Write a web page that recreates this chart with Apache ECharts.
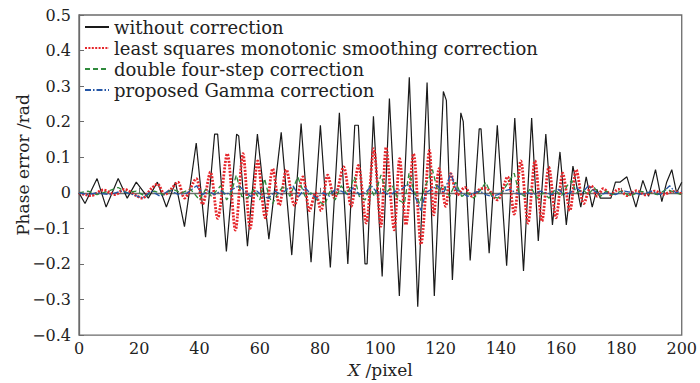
<!DOCTYPE html>
<html><head><meta charset="utf-8">
<script src="https://cdn.jsdelivr.net/npm/echarts@6/dist/echarts.min.js"></script>
<style>html,body{margin:0;padding:0;background:#fff}#c{width:700px;height:383px}</style>
</head><body><div id="c"></div>
<script>
const seriesNames = ['without correction', 'least squares monotonic smoothing correction', 'double four-step correction', 'proposed Gamma correction'];
const xTicks = [0, 20, 40, 60, 80, 100, 120, 140, 160, 180, 200];
const yTicks = [-0.4, -0.3, -0.2, -0.1, 0, 0.1, 0.2, 0.3, 0.4, 0.5];

const blackX = [0, 2, 6, 9, 13, 16, 19, 23, 26, 29, 32, 35, 38.9, 42, 45, 46, 48.9, 52.3, 53, 55.9, 59.2, 63, 67.1, 70.6, 73.7, 77, 80.1, 83.4, 86.4, 89.2, 91.5, 92.7, 94.9, 95.6, 97.7, 100.6, 103, 106.3, 109.6, 112.4, 115.5, 117.9, 120.9, 121.9, 123.9, 126.7, 127.5, 129.8, 132.8, 133.4, 136.1, 138.8, 141.9, 144.6, 147.5, 150.2, 152.4, 154.9, 157.1, 159.6, 161.7, 163.9, 166.5, 168.3, 170.3, 171.8, 173, 176.5, 178, 179.5, 181.8, 184.8, 187.1, 189, 191.3, 193.4, 195, 196.7, 198.3, 200];
const blackY = [0, -0.03, 0.04, -0.04, 0.04, -0.015, 0.03, -0.015, 0.03, -0.04, 0.03, -0.095, 0.14, -0.125, 0.165, 0.165, -0.165, 0.165, 0.16, -0.15, 0.165, -0.13, 0.17, -0.175, 0.195, -0.195, 0.19, -0.21, 0.225, -0.2, 0.19, 0.19, -0.2, -0.2, 0.215, -0.235, 0.265, -0.29, 0.325, -0.32, 0.31, -0.29, 0.285, 0.26, -0.245, 0.225, 0.2, -0.19, 0.18, 0.18, -0.17, 0.19, -0.205, 0.21, -0.22, 0.21, -0.135, 0.165, -0.09, 0.115, -0.09, 0.075, -0.04, 0.045, -0.04, 0.01, -0.015, -0.015, 0.03, 0.03, 0.045, -0.04, 0.035, -0.01, 0.065, -0.025, 0.03, 0.065, 0, 0.03];

const redX = [0, 4, 8, 12, 15, 19, 21, 24, 26, 28.5, 30.5, 32.8, 35, 38.9, 41, 43.6, 46, 49.2, 51.9, 54.4, 56.8, 59.3, 61.8, 64.3, 66.5, 68.8, 71.5, 74.3, 76.5, 78.5, 80.3, 82.5, 84.8, 87.8, 90.3, 92.7, 95.3, 97.8, 100.2, 101.9, 104.6, 106.4, 108.5, 111, 113.5, 116.3, 117.7, 119.5, 121.7, 123.4, 125.6, 128, 130.5, 133, 135, 138.8, 142.2, 144.4, 146.6, 149, 151.3, 153.6, 155.9, 158.3, 160.5, 162.9, 165, 167.5, 170, 172, 174, 176.5, 179, 182, 185, 188, 191, 194, 197, 200];
const redY = [0, -0.008, 0.008, -0.005, 0.01, -0.008, -0.015, 0.012, 0.025, -0.005, 0.01, 0.03, -0.015, 0.04, -0.032, 0.058, -0.072, 0.11, -0.105, 0.11, -0.1, 0.09, -0.07, 0.068, -0.035, 0.065, -0.035, 0.045, -0.05, 0, -0.05, 0.05, -0.015, 0.073, -0.038, 0.077, -0.085, 0.124, -0.094, 0.128, -0.104, 0.096, -0.09, 0.11, -0.145, 0.119, -0.062, 0.068, -0.038, 0.054, -0.006, 0.015, -0.01, 0.01, 0.013, -0.02, 0.045, -0.06, 0.09, -0.085, 0.09, -0.08, 0.072, -0.07, 0.055, -0.05, 0.065, -0.03, 0.02, -0.01, 0.012, -0.005, 0.01, -0.008, 0.006, -0.006, 0.005, -0.004, 0.004, -0.003];

const greenX = [0, 3, 6, 9, 13, 16, 19, 22, 25, 28, 31, 34, 37, 40, 42, 44, 47, 49, 50.5, 52.2, 54, 56, 58, 60, 61.6, 63, 64.3, 66, 68, 70, 72.6, 75, 77, 79, 81.5, 83.5, 85, 87, 89, 91.4, 93, 95, 96.5, 98, 100.2, 102, 104, 106, 108, 109.5, 111, 113, 115, 117.3, 119, 121, 123, 125, 127, 129, 131, 133, 135, 137, 139, 141, 144.4, 146, 148, 150, 152, 154, 156, 158, 160, 162, 163.5, 165, 167, 169, 171, 173, 175, 177, 180, 183, 186, 189, 192, 195, 198, 200];
const greenY = [0, 0.005, -0.005, 0.003, 0.015, 0, 0.005, -0.01, 0.005, -0.005, 0.01, 0, 0.01, -0.02, 0.01, -0.01, 0.02, -0.02, 0, 0.05, -0.01, -0.015, 0.01, -0.02, 0.04, -0.01, -0.03, 0, 0.02, -0.01, 0.045, -0.01, 0, -0.02, -0.035, 0.01, -0.02, 0.02, -0.005, 0.045, -0.01, -0.02, 0.02, -0.01, 0.05, 0, 0.02, -0.02, -0.03, 0.055, 0.01, -0.03, 0.02, 0.065, 0.005, 0.02, -0.01, 0.03, -0.01, 0, -0.015, 0.005, 0.03, -0.01, -0.015, 0.01, 0.055, 0, -0.01, 0.015, -0.015, 0, -0.015, 0.01, -0.01, 0.02, 0.035, 0, 0.01, -0.005, 0.015, -0.01, 0.005, -0.005, 0.005, -0.01, 0.005, 0, -0.005, 0.01, 0, -0.005];

const blueX = [0, 3, 6, 10, 14, 18, 21, 24, 27, 30, 33, 36, 39, 41, 43, 45, 47, 49, 51, 53, 55, 57, 59, 61, 63, 65, 67, 69, 71, 73, 75, 77, 79, 81, 83, 85, 87, 89, 91, 93, 95, 97, 99, 101, 103, 105, 107, 109, 111, 113.5, 115, 117, 119, 121, 123.4, 125, 127, 129, 131, 133, 135, 137, 139, 141, 143, 145, 147, 149, 151, 153, 155, 157, 159, 161, 163, 165, 167, 169, 171, 173, 175, 178, 181, 184, 187, 190, 193, 196, 198, 200];
const blueY = [0, -0.005, 0, -0.005, 0.005, -0.005, -0.015, 0.005, -0.01, 0.008, -0.005, 0, 0.02, -0.005, 0.005, -0.005, 0.005, -0.005, 0.01, 0.02, 0.005, -0.01, 0.005, -0.01, -0.015, 0.005, -0.005, 0.01, 0.02, -0.01, 0.015, -0.005, -0.015, 0, -0.01, 0.01, 0.005, -0.005, 0.015, -0.005, 0, 0.02, 0, 0.005, -0.01, 0.005, 0.01, 0.025, 0, -0.05, 0, 0.01, 0.02, 0, 0.055, 0.01, 0, -0.01, 0, 0.005, -0.005, -0.01, -0.005, 0.005, 0.01, 0, -0.005, 0, -0.005, 0.005, 0, -0.005, 0.01, -0.005, 0, 0.015, 0, 0.02, 0.005, -0.005, 0, -0.005, 0.005, 0, -0.005, 0.005, -0.005, 0.02, 0, 0.005];

const zip = (xs, ys) => xs.map((x, i) => [x, ys[i]]);
const FONT = "'DejaVu Serif', serif";
const AXC = '#6b6b6b';

const chart = echarts.init(document.getElementById('c'), null, {renderer: 'svg'});
chart.setOption({
  animation: false,
  backgroundColor: '#fff',
  grid: {left: 79, right: 17, top: 15, bottom: 45, show: true, borderColor: AXC, borderWidth: 1.3, containLabel: false},
  legend: {
    orient: 'vertical', left: 84, top: 18, padding: 0, itemGap: 3,
    itemWidth: 24, itemHeight: 14,
    itemStyle: {opacity: 0},
    textStyle: {fontFamily: FONT, fontSize: 18, color: '#222'},
    data: seriesNames
  },
  xAxis: {
    type: 'value', min: xTicks[0], max: xTicks[xTicks.length - 1], interval: 20,
    axisLine: {show: true, lineStyle: {color: AXC, width: 1.3}},
    axisTick: {show: true, inside: true, length: 5, lineStyle: {color: AXC}},
    splitLine: {show: false},
    axisLabel: {fontFamily: FONT, fontSize: 16, color: '#222', margin: 5},
    name: '{i|X} /pixel', nameLocation: 'middle', nameGap: 22,
    nameTextStyle: {fontFamily: FONT, fontSize: 17, color: '#222', rich: {i: {fontFamily: FONT, fontSize: 17, fontStyle: 'italic', color: '#222'}}}
  },
  yAxis: {
    type: 'value', min: yTicks[0], max: yTicks[yTicks.length - 1], interval: 0.1,
    axisLine: {show: true, lineStyle: {color: AXC, width: 1.3}},
    axisTick: {show: true, inside: true, length: 5, lineStyle: {color: AXC}},
    splitLine: {show: false},
    axisLabel: {fontFamily: FONT, fontSize: 16, color: '#222', margin: 8,
      formatter: v => { const r = Math.round(v * 10) / 10; return r === 0 ? '0' : (r < 0 ? '\u2212' : '') + Math.abs(r).toFixed(1); }}
  },
  graphic: [{
    type: 'text', x: 23, y: 165, rotation: Math.PI / 2,
    style: {text: 'Phase error /rad', fontFamily: FONT, fontSize: 17, fill: '#222', align: 'center', verticalAlign: 'middle'}
  }],
  series: [
    {name: seriesNames[0], type: 'line', data: zip(blackX, blackY), symbol: 'none', showSymbol: false,
      lineStyle: {color: '#1a1a1a', width: 1.2}, itemStyle: {color: '#1a1a1a'}, z: 2},
    {name: seriesNames[1], type: 'line', data: zip(redX, redY), symbol: 'none', showSymbol: false, smooth: 0.3,
      lineStyle: {color: '#e5262b', width: 2.8, type: [2, 1.4]}, itemStyle: {color: '#e5262b'}, z: 3},
    {name: seriesNames[2], type: 'line', data: zip(greenX, greenY), symbol: 'none', showSymbol: false,
      lineStyle: {color: '#2f8a3c', width: 1.3, type: [5, 3]}, itemStyle: {color: '#2f8a3c'}, z: 4},
    {name: seriesNames[3], type: 'line', data: zip(blueX, blueY), symbol: 'none', showSymbol: false,
      lineStyle: {color: '#2456a6', width: 1.3, type: [6, 2, 1.5, 2]}, itemStyle: {color: '#2456a6'}, z: 5}
  ]
});
</script></body></html>
